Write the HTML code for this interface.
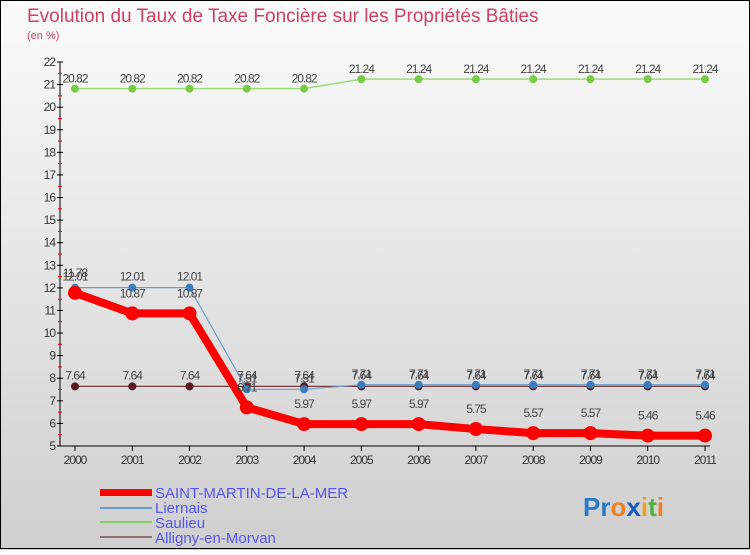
<!DOCTYPE html>
<html><head><meta charset="utf-8"><style>
body{margin:0;width:750px;height:550px;overflow:hidden;font-family:"Liberation Sans",sans-serif}
</style></head><body>
<svg width="750" height="550" xmlns="http://www.w3.org/2000/svg" id="svg">
<defs><linearGradient id="bg" x1="0" y1="0" x2="0" y2="1"><stop offset="0" stop-color="#fbfbfb"/><stop offset="1" stop-color="#cfcfcf"/></linearGradient></defs>
<rect x="0" y="0" width="750" height="550" fill="url(#bg)"/>
<rect x="0.5" y="0.5" width="749" height="548" fill="none" stroke="#000"/>
<text x="27" y="22" font-size="19" fill="#d04060">Evolution du Taux de Taxe Foncière sur les Propriétés Bâties</text>
<text x="27" y="39" font-size="11" fill="#d04060">(en %)</text>
<g id="axes"></g><g id="series"></g>
<g>
<rect x="100" y="489" width="52" height="7" fill="#f00"/>
<text x="155" y="498" font-size="15" fill="#5555ee">SAINT-MARTIN-DE-LA-MER</text>
<rect x="100" y="507" width="52" height="2" fill="#6a9ec8"/>
<text x="155" y="513" font-size="15" fill="#5555ee">Liernais</text>
<rect x="100" y="521" width="52" height="2" fill="#88d060"/>
<text x="155" y="528" font-size="15" fill="#5555ee">Saulieu</text>
<rect x="100" y="536" width="52" height="2" fill="#907070"/>
<text x="155" y="543" font-size="15" fill="#5555ee">Alligny-en-Morvan</text>
</g>
<text x="583" y="516" font-size="26" font-weight="bold"><tspan fill="#2a7ac8">Pr</tspan><tspan fill="#f08020">o</tspan><tspan fill="#1a5ab8">x</tspan><tspan fill="#f0a020">i</tspan><tspan fill="#50b040">t</tspan><tspan fill="#f08020">i</tspan></text>
</svg>
<script>
const years=["2000","2001","2002","2003","2004","2005","2006","2007","2008","2009","2010","2011"];
const yTicks=[5,6,7,8,9,10,11,12,13,14,15,16,17,18,19,20,21,22];
const saulieu=[20.82,20.82,20.82,20.82,20.82,21.24,21.24,21.24,21.24,21.24,21.24,21.24];
const liernais=[12.01,12.01,12.01,7.51,7.51,7.71,7.71,7.71,7.71,7.71,7.71,7.71];
const alligny=[7.64,7.64,7.64,7.64,7.64,7.64,7.64,7.64,7.64,7.64,7.64,7.64];
const saintMartin=[11.78,10.87,10.87,6.71,5.97,5.97,5.97,5.75,5.57,5.57,5.46,5.46];
const NS="http://www.w3.org/2000/svg";
const xS=i=>75+i*(630/11);
const yS=v=>446-(v-5)*(384/17);
function mk(p,t,a,txt){const e=document.createElementNS(NS,t);for(const k in a)e.setAttribute(k,a[k]);if(txt!==undefined)e.textContent=txt;p.appendChild(e);return e;}
const ax=document.getElementById('axes');
let e=mk(ax,'line',{x1:60,y1:yS(22),x2:60,y2:yS(5),stroke:'#000'});

e=mk(ax,'line',{x1:60,y1:yS(5),x2:710,y2:yS(5),stroke:'#000'});

yTicks.forEach(v=>{
 e=mk(ax,'line',{x1:57,x2:63,y1:yS(v),y2:yS(v),stroke:'#000'});
 
 if(v<22){e=mk(ax,'line',{x1:58,x2:62,y1:yS(v+0.5),y2:yS(v+0.5),stroke:'#f00'});
 }
 e=mk(ax,'text',{x:55,y:yS(v)+4,'font-size':12,fill:'#333','text-anchor':'end','letter-spacing':'-1'},String(v));
 
});
years.forEach((y,i)=>{
 e=mk(ax,'line',{x1:xS(i),x2:xS(i),y1:yS(5),y2:yS(5)+5,stroke:'#000'});
 
 e=mk(ax,'text',{x:xS(i),y:464,'font-size':12,fill:'#333','text-anchor':'middle','letter-spacing':'-1'},y);
 
});
const sg=document.getElementById('series');
function series(name,vals,color,w,r,dot,labelDy){
 const g=mk(sg,'g',{});
 
 e=mk(g,'polyline',{points:vals.map((v,i)=>xS(i)+','+yS(v)).join(' '),fill:'none',stroke:color,'stroke-width':w,'stroke-linejoin':'round'});
 
 vals.forEach((v,i)=>{
  e=mk(g,'circle',{cx:xS(i),cy:yS(v),r:r,fill:dot});
  
  e=mk(g,'text',{x:xS(i),y:yS(v)+labelDy,'font-size':12,fill:'#444','text-anchor':'middle','letter-spacing':'-1'},v.toFixed(2));
  
 });
}
series('saulieu',saulieu,'#99dd77',1.5,4,'#77cc44',-6);
series('alligny',alligny,'#7a3a3a',1.2,4,'#5a1a22',-7);
series('liernais',liernais,'#6a9ec8',1.2,4,'#3a7ec0',-7);
series('saint-martin',saintMartin,'#f00',8,7,'#f00',-16);
</script>
</body></html>
